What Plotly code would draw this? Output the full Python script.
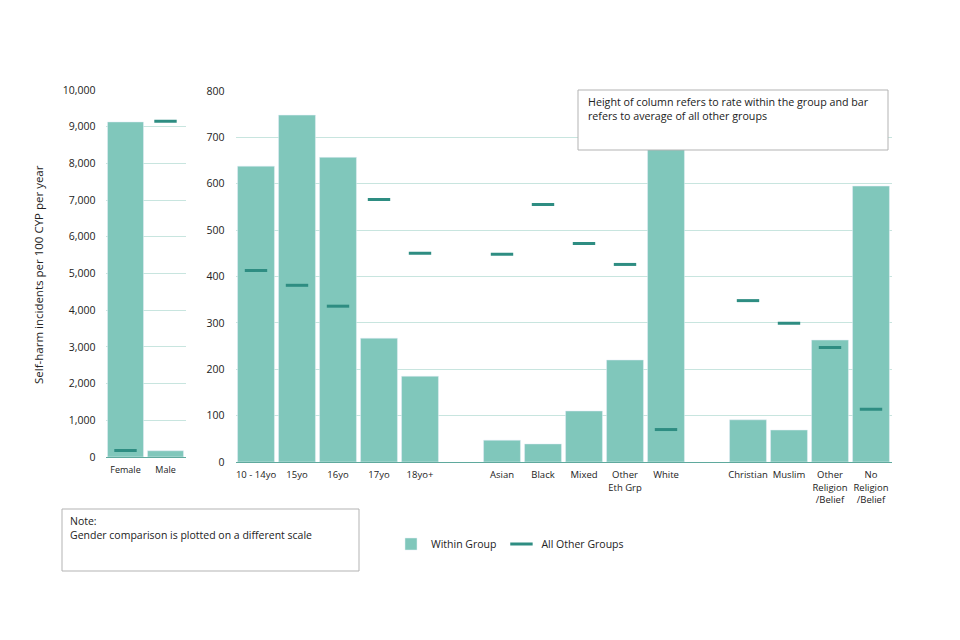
import plotly.graph_objects as go

# ---- data ----
gender_cats = ["Female", "Male"]
gender_within = [9130, 170]
gender_others = [180, 9150]

group_cats = ["10 - 14yo", "15yo", "16yo", "17yo", "18yo+", "gap1",
              "Asian", "Black", "Mixed", "Other Eth Grp", "White", "gap2",
              "Christian", "Muslim", "Other Religion /Belief", "No Religion /Belief"]
group_labels = ["10 - 14yo", "15yo", "16yo", "17yo", "18yo+", "",
                "Asian", "Black", "Mixed", "Other<br>Eth Grp", "White", "",
                "Christian", "Muslim", "Other<br>Religion<br>/Belief", "No<br>Religion<br>/Belief"]
group_within = [638, 748, 657, 267, 185, None,
                47, 39, 110, 220, 690, None,
                91, 69, 263, 595]
group_others = [413, 381, 336, 566, 450, None,
                448, 555, 471, 426, 70, None,
                348, 299, 247, 114]

left_ticks = list(range(0, 10001, 1000))
right_ticks = list(range(0, 801, 100))

BAR = "#80c7bb"
MARK = "#2e8d82"
GRID = "#c8e5df"
AXIS = "#5fa99d"
FONT = "Open Sans"
TXT = "#222222"

W, H = 960, 640
OFF = 8  # page body margin offset
def px(x):
    return (x - OFF) / W
def py(y):
    return (H - (y - OFF)) / H

fig = go.Figure()

mk = dict(symbol="line-ew", size=16, line=dict(width=3, color=MARK), color=MARK)
fig.add_trace(go.Bar(x=gender_cats, y=gender_within, marker_color=BAR, name="Within Group",
                     xaxis="x", yaxis="y", showlegend=True))
fig.add_trace(go.Scatter(x=gender_cats, y=gender_others, mode="markers", name="All Other Groups",
                         marker=mk, xaxis="x", yaxis="y", showlegend=True))
fig.add_trace(go.Bar(x=group_cats, y=group_within, marker_color=BAR, name="Within Group",
                     xaxis="x2", yaxis="y2", showlegend=False))
fig.add_trace(go.Scatter(x=group_cats, y=group_others, mode="markers", name="All Other Groups",
                         marker=mk, xaxis="x2", yaxis="y2", showlegend=False))

ytickfont = dict(family=FONT, size=10.5, color=TXT)

fig.update_layout(
    width=W, height=H,
    margin=dict(l=0, r=0, t=0, b=0),
    paper_bgcolor="white", plot_bgcolor="white",
    bargap=0.1,
    font=dict(family=FONT, size=11, color=TXT),
    xaxis=dict(domain=[px(105.5), px(185.5)], type="category", categoryarray=gender_cats,
               range=[-0.5, 1.5],
               showgrid=False, showline=True, linecolor=AXIS, linewidth=1, ticks="",
               ticklabelstandoff=4,
               tickfont=dict(family=FONT, size=9, color=TXT), anchor="y", automargin=False),
    yaxis=dict(domain=[py(457), py(90)], range=[0, 10000], tickvals=left_ticks,
               tickformat=",", showgrid=True, gridcolor=GRID, gridwidth=1, zeroline=False,
               showline=False, ticks="", tickfont=ytickfont, anchor="x", automargin=False,
               ticklabelstandoff=9),
    xaxis2=dict(domain=[px(235.5), px(891.5)], type="category", categoryarray=group_cats,
                range=[-0.5, 15.5],
                tickvals=group_cats, ticktext=group_labels,
                showgrid=False, showline=True, linecolor=AXIS, linewidth=1, ticks="",
                ticklabelstandoff=4,
                tickfont=dict(family=FONT, size=9.5, color=TXT), anchor="y2", automargin=False),
    yaxis2=dict(domain=[py(462), py(91)], range=[0, 800], tickvals=right_ticks,
                showgrid=True, gridcolor=GRID, gridwidth=1, zeroline=False,
                showline=False, ticks="", tickfont=ytickfont, anchor="x2", automargin=False,
                ticklabelstandoff=10),
    legend=dict(orientation="h", x=px(391), y=py(544), xanchor="left", yanchor="middle",
                font=dict(family=FONT, size=10.5, color=TXT), bgcolor="rgba(0,0,0,0)",
                itemwidth=30, traceorder="normal"),
    shapes=[
        dict(type="rect", xref="paper", yref="paper", x0=px(578), x1=px(888), y0=py(150), y1=py(90),
             line=dict(color="#b3b3b3", width=1), fillcolor="white", layer="above"),
        dict(type="rect", xref="paper", yref="paper", x0=px(62), x1=px(359), y0=py(571), y1=py(509),
             line=dict(color="#b3b3b3", width=1), fillcolor="white", layer="above"),
    ],
    annotations=[
        dict(xref="paper", yref="paper", x=px(38), y=py(275), xanchor="center", yanchor="middle",
             textangle=-90, showarrow=False,
             text="Self-harm incidents per 100 CYP per year",
             font=dict(family=FONT, size=11.5, color=TXT)),
        dict(xref="paper", yref="paper", x=px(586), y=py(93), xanchor="left", yanchor="top",
             align="left", showarrow=False,
             text="Height of column refers to rate within the group and bar<br>refers to average of all other groups",
             font=dict(family=FONT, size=10.7, color=TXT)),
        dict(xref="paper", yref="paper", x=px(68), y=py(512), xanchor="left", yanchor="top",
             align="left", showarrow=False,
             text="Note:<br>Gender comparison is plotted on a different scale",
             font=dict(family=FONT, size=10.5, color=TXT)),
    ],
)

fig.write_html("out.html")
